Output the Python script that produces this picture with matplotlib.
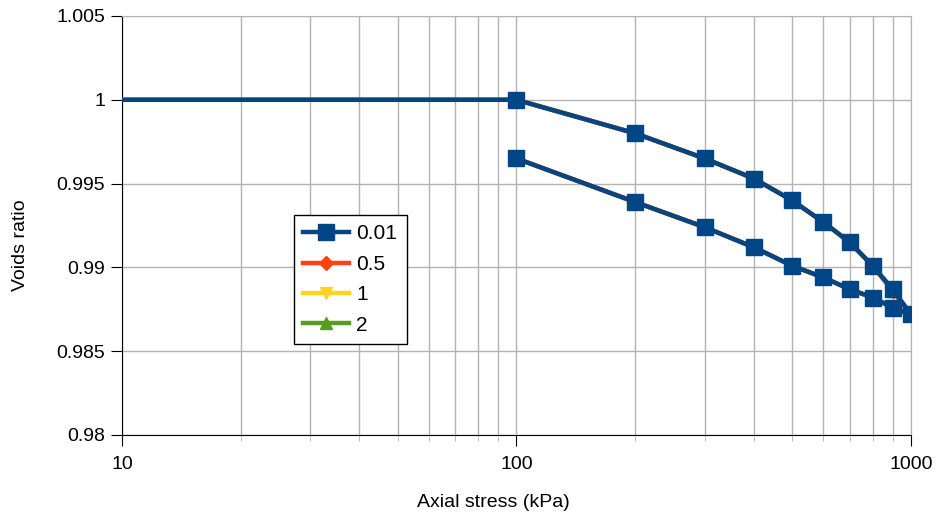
import matplotlib
matplotlib.use("Agg")
import matplotlib.pyplot as plt
from matplotlib.ticker import FixedLocator, NullFormatter

plt.rcParams['font.family'] = ['Liberation Sans', 'DejaVu Sans']

# Axial stress (kPa) - loading then unloading path (first point lies left of the axis)
stress = [1, 100, 200, 300, 400, 500, 600, 700, 800, 900, 1000,
          900, 800, 700, 600, 500, 400, 300, 200, 100]
voids_001 = [1.0, 1.0, 0.998, 0.9965, 0.9953, 0.9940, 0.9927, 0.9915, 0.9901, 0.9887, 0.9872,
             0.9876, 0.9882, 0.9887, 0.9894, 0.9901, 0.9912, 0.9924, 0.9939, 0.9965]
voids_05 = [1.0, 1.0, 0.998, 0.9965, 0.9953, 0.9940, 0.9927, 0.9915, 0.9901, 0.9886, 0.9872,
            0.9876, 0.9882, 0.9887, 0.9894, 0.9901, 0.9912, 0.9924, 0.9939, 0.9965]
voids_1 = voids_05[:]
voids_2 = voids_05[:]

series = [
    ("0.01", voids_001, "#004586", "s", 11.5),
    ("0.5", voids_05, "#ff420e", "D", 7),
    ("1", voids_1, "#ffd320", "v", 9),
    ("2", voids_2, "#579d1c", "^", 9),
]

fig = plt.figure(figsize=(9.38, 5.16), dpi=100)
ax = fig.add_axes([0.130, 0.157, 0.841, 0.812])

zorders = [5, 4, 3, 2]
for (label, vals, color, marker, ms), z in zip(series, zorders):
    ax.plot(stress, vals, color=color, marker=marker, markersize=ms,
            linewidth=3.2, label=label, zorder=z, clip_on=True)

ax.set_xscale('log')
ax.set_xlim(10, 1000)
ax.set_ylim(0.98, 1.005)
ax.set_yticks([0.98, 0.985, 0.99, 0.995, 1.0, 1.005])
ax.set_yticklabels(["0.98", "0.985", "0.99", "0.995", "1", "1.005"])
ax.set_xticks([10, 100, 1000])
ax.set_xticklabels(["10", "100", "1000"])
ax.xaxis.set_minor_locator(FixedLocator([d * m for d in (10, 100) for m in range(2, 10)]))
ax.xaxis.set_minor_formatter(NullFormatter())

ax.grid(True, which='major', color='#b3b3b3', linewidth=1)
ax.grid(True, which='minor', axis='x', color='#b3b3b3', linewidth=1)
ax.set_axisbelow(True)

ax.tick_params(axis='both', which='major', direction='out', length=8, labelsize=14, color='black')
ax.tick_params(axis='x', which='minor', direction='out', length=4, color='#b3b3b3')
ax.tick_params(axis='x', which='major', pad=7)
ax.tick_params(axis='y', which='major', pad=4)

ax.spines['top'].set_color('#b3b3b3')
ax.spines['right'].set_color('#b3b3b3')
ax.spines['left'].set_color('black')
ax.spines['bottom'].set_color('black')

ax.set_xlabel('Axial stress (kPa)', fontsize=14)
ax.set_ylabel('Voids ratio', fontsize=14)
ax.xaxis.set_label_coords(0.471, -0.141)
ax.yaxis.set_label_coords(-0.118, 0.453)

leg = ax.legend(loc='upper left', bbox_to_anchor=(0.218, 0.525), fontsize=15,
                frameon=True, fancybox=False, edgecolor='black', framealpha=1,
                borderaxespad=0, handlelength=2.2, borderpad=0.45,
                labelspacing=0.55, handletextpad=0.35)
leg.get_frame().set_linewidth(1)

fig.savefig('out.png', dpi=100)
